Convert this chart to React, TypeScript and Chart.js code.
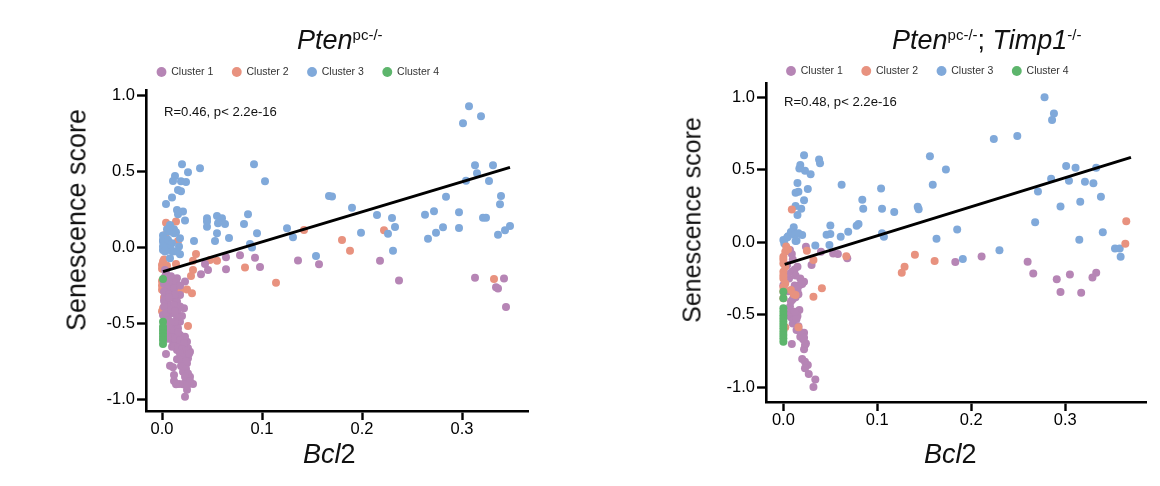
import React, { useEffect, useRef } from "react";
import { Chart, registerables } from "chart.js";
Chart.register(...registerables);

const clusterNames = ["Cluster 1", "Cluster 2", "Cluster 3", "Cluster 4"];
const clusterColors = ["#b685b5", "#e8927f", "#80a9da", "#5db56c"];
const xTickValues = [0, 0.1, 0.2, 0.3];
const yTickValues = [-1, -0.5, 0, 0.5, 1];

const leftPurple = [[.218,-.087],[.237,-.218],[.313,-.199],[.342,-.205],[.334,-.262],[.336,-.27],[.344,-.391],[.064,-.064],[.078,-.052],[.093,-.067],[.136,-.086],[.157,-.111],[.064,-.144],[.098,-.128],[.043,-.109],[.046,-.148],[.039,-.177],[.023,-.224],[.003,-.148],[.015,-.203],[.022,-.40],[.020,-.451],[.018,-.488],[.008,-.378],[.013,-.345],[.005,-.302],[.010,-.433],[.015,-.455],[.003,-.476],[.011,-.520],[.016,-.532],[.008,-.565],[.015,-.587],[.021,-.598],[.011,-.620],[.018,-.642],[.025,-.620],[.015,-.675],[.028,-.686],[.004,-.701],[.023,-.708],[.015,-.736],[.026,-.729],[.008,-.779],[.011,-.788],[.023,-.784],[.021,-.817],[.028,-.850],[.012,-.839],[.012,-.878],[.017,-.898],[.031,-.898],[.025,-.937],[.023,-.983],[.023,-.894],[.005,-.345],[.010,-.323],[.015,-.356],[.018,-.389],[.006,-.411],[.001,-.444],[.006,-.466],[.013,-.488],[.011,-.554],[.005,-.587],[.018,-.576],[.023,-.587],[.010,-.653],[.015,-.631],[.021,-.653],[.026,-.663],[.025,-.762],[.020,-.685],[.003,-.192],[.008,-.235],[.011,-.279],[.003,-.323],[.018,-.312],[.004,-.17],[.009,-.19],[.014,-.23],[.002,-.24],[.007,-.26],[.012,-.27],[.018,-.25],[.002,-.29],[.007,-.31],[.013,-.31],[.002,-.35],[.007,-.33],[.012,-.38],[.002,-.39],[.016,-.41],[.004,-.43],[.009,-.41],[.013,-.42],[.004,-.50],[.009,-.49],[.003,-.53],[.007,-.53],[.012,-.55],[.016,-.56],[.006,-.60],[.010,-.59],[.013,-.60],[.018,-.61],[.022,-.63],[.012,-.65],[.016,-.66],[.020,-.67],[.024,-.68],[.018,-.70],[.022,-.72],[.027,-.70],[.020,-.74],[.024,-.75],[.019,-.78],[.024,-.80],[.026,-.83],[.023,-.85],[.028,-.88],[.014,-.90],[.021,-.90],[.025,-.91]];
const leftSalmon = [[.222,.113],[.180,.049],[.188,-.021],[.332,-.207],[.004,.163],[.014,.17],[.003,.082],[.016,.043],[.034,-.043],[.031,-.087],[.048,-.082],[.055,-.088],[.083,-.132],[.114,-.232],[.142,.115],[.001,-.093],[0,-.115],[.014,-.109],[.031,-.148],[.029,-.187],[.008,-.209],[0,-.279],[.006,-.273],[.018,-.269],[.015,-.297],[.025,-.276],[.030,-.301],[.001,-.40],[.026,-.517],[.006,-.532],[.002,-.08],[.005,-.12],[0,-.14],[0,-.22],[0,-.25],[.002,-.33],[0,-.42],[.018,-.29],[.010,-.25]];
const leftBlue = [[.307,.929],[.319,.863],[.301,.817],[.313,.541],[.331,.541],[.315,.488],[.304,.439],[.327,.437],[.284,.334],[.339,.338],[.338,.284],[.170,.336],[.190,.262],[.215,.214],[.230,.194],[.272,.238],[.263,.216],[.297,.231],[.321,.196],[.324,.196],[.233,.135],[.226,.091],[.199,.097],[.281,.133],[.297,.128],[.274,.097],[.266,.058],[.336,.084],[.343,.113],[.348,.141],[.231,-.021],[.020,.547],[.038,.521],[.092,.547],[.103,.435],[.026,.495],[.013,.470],[.011,.437],[.019,.435],[.024,.431],[.016,.378],[.019,.370],[.010,.328],[.004,.286],[.167,.339],[.015,.247],[.021,.236],[.016,.218],[.045,.192],[.055,.207],[.060,.192],[.086,.218],[.008,.148],[.007,.104],[.045,.137],[.055,.093],[.056,.159],[.063,.155],[.082,.155],[.095,.093],[.067,.063],[.053,.043],[.032,.043],[.018,.060],[.012,.093],[.001,.078],[.001,.038],[.005,.016],[.001,-.016],[.010,-.021],[.017,.006],[.018,-.045],[.008,-.071],[.088,.023],[.090,0],[.125,.126],[.131,.067],[.154,-.056],[.023,.177],[.045,.170],[.001,.05],[.005,-.006],[.008,-.016],[.011,-.027],[.001,.006],[.003,-.027],[.006,.05],[.010,.027],[.015,-.027],[.009,.13],[.012,.12],[.014,.10],[.005,.12]];
const leftGreen = [[.001,-.207],[.001,-.488],[.001,-.521],[.001,-.543],[.001,-.565],[.001,-.587],[.001,-.609],[.001,-.635]];
const leftFit = [[.001,-.159],[.348,.527]];

const rightPurple = [[.183,-.138],[.211,-.099],[.260,-.136],[.266,-.216],[.291,-.257],[.305,-.223],[.333,-.212],[.329,-.244],[.295,-.345],[.317,-.350],[.007,-.055],[.009,-.083],[.024,-.032],[.040,-.067],[.053,-.078],[.058,-.083],[.068,-.112],[.030,-.158],[.015,-.170],[.004,-.158],[.009,-.205],[.006,-.251],[.018,-.251],[.022,-.274],[.017,-.297],[0,-.297],[.015,-.331],[.010,-.395],[.007,-.446],[.017,-.469],[.015,-.510],[.008,-.519],[.006,-.492],[.010,-.561],[.014,-.607],[.022,-.625],[.018,-.653],[.023,-.710],[.009,-.703],[.022,-.740],[.020,-.807],[.023,-.825],[.026,-.848],[.023,-.871],[.027,-.910],[.034,-.947],[.032,-1.0],[.010,-.12],[.012,-.19],[.003,-.22],[.013,-.23],[.020,-.29],[.012,-.30],[.005,-.34],[.016,-.36],[.013,-.38],[.008,-.41],[.004,-.50],[.012,-.48],[.014,-.53],[.016,-.58],[.018,-.62],[.021,-.67],[.024,-.70],[.022,-.66]];
const rightSalmon = [[.365,.143],[.364,-.012],[.140,-.087],[.161,-.131],[.129,-.170],[.126,-.212],[.009,.225],[.002,-.067],[0,-.101],[.025,-.060],[.032,-.124],[.067,-.097],[.041,-.319],[.032,-.377],[0,-.147],[0,-.205],[0,-.251],[.002,-.285],[.008,-.331],[.013,-.365],[0,-.388],[.016,-.588],[.002,-.588],[.003,-.03],[0,-.12],[.002,-.17],[0,-.23],[0,-.31],[0,-.34],[.005,-.05],[.011,-.36]];
const rightBlue = [[.278,.998],[.288,.887],[.286,.841],[.224,.710],[.249,.731],[.156,.591],[.173,.501],[.159,.395],[.143,.243],[.144,.227],[.301,.524],[.311,.512],[.333,.512],[.285,.437],[.304,.423],[.321,.416],[.330,.405],[.271,.349],[.338,.313],[.295,.246],[.316,.278],[.268,.136],[.185,.087],[.163,.023],[.340,.067],[.315,.016],[.353,-.044],[.358,-.044],[.359,-.101],[.230,-.057],[.191,-.117],[.022,.598],[.038,.570],[.039,.543],[.018,.531],[.017,.508],[.023,.492],[.029,.467],[.015,.407],[.062,.395],[.026,.366],[.013,.340],[.016,.347],[.104,.370],[.084,.292],[.022,.288],[.085,.230],[.105,.230],[.118,.207],[.013,.248],[.019,.230],[.015,.186],[.050,.115],[.011,.103],[.078,.113],[.080,.124],[.069,.071],[.105,.060],[.107,.036],[.061,.036],[.050,.055],[.046,.050],[.020,.048],[.011,.063],[.004,.032],[.014,.009],[0,.015],[.001,-.010],[.034,-.023],[.049,-.021],[.013,.007],[.005,.04],[.008,.07],[.012,.05],[.016,.06]];
const rightGreen = [[0,-.343],[0,-.388],[0,-.457],[0,-.481],[0,-.504],[0,-.527],[0,-.549],[0,-.572],[0,-.595],[0,-.618],[0,-.641],[0,-.664],[0,-.687]];
const rightFit = [[.0014,-.154],[.370,.584]];

const FONT = '"Liberation Sans", Arial, sans-serif';
const LEGEND_BOX = 39.5;

type Cfg = {
  groups: number[][][]; fit: number[][]; drawOrder: number[];
  xMin: number; xMax: number; yMin: number; yMax: number;
  areaLeft: number; areaRight: number; areaTop: number; axisY: number; legendTop: number; legendLeft: number;
};

const axisGrid = { display: true, drawOnChartArea: false, drawTicks: true, tickLength: 9, tickWidth: 2.4, tickColor: "#000" };

function Panel({ cfg, offset }: { cfg: Cfg; offset: number }) {
  const ref = useRef<HTMLCanvasElement>(null);
  useEffect(() => {
    const chart = new Chart(ref.current!, {
      type: "scatter",
      data: {
        datasets: [
          ...cfg.groups.map((g, i) => ({
            type: "scatter" as const,
            label: clusterNames[i],
            data: g.map(([x, y]) => ({ x, y })),
            backgroundColor: clusterColors[i],
            borderWidth: 0,
            pointRadius: 4,
            order: cfg.drawOrder[i],
          })),
          {
            type: "line" as const,
            label: "fit",
            data: cfg.fit.map(([x, y]) => ({ x, y })),
            borderColor: "#000",
            borderWidth: 3,
            pointRadius: 0,
            order: -1,
          },
        ],
      },
      options: {
        responsive: false,
        animation: false,
        layout: { padding: { top: cfg.areaTop - LEGEND_BOX, right: 580 - cfg.areaRight, left: 0, bottom: 0 } },
        plugins: {
          tooltip: { enabled: false },
          legend: {
            position: "top",
            align: "start",
            maxHeight: LEGEND_BOX,
            labels: {
              usePointStyle: true,
              pointStyle: "circle",
              boxWidth: 9,
              boxHeight: 7,
              padding: 19,
              color: "#333",
              font: { family: FONT, size: 10.5 },
              filter: (it: any) => it.text !== "fit",
              sort: (a: any, b: any) => a.datasetIndex - b.datasetIndex,
            },
          },
        },
        scales: {
          x: {
            type: "linear",
            min: cfg.xMin,
            max: cfg.xMax,
            afterBuildTicks: (s: any) => { s.ticks = xTickValues.map((value) => ({ value })); },
            afterFit: (s: any) => { s.height = 486 - cfg.axisY; },
            border: { display: true, color: "#000", width: 2.6 },
            grid: axisGrid,
            ticks: { color: "#000", padding: 0, maxRotation: 0, autoSkip: false, font: { family: FONT, size: 16.5 }, callback: (v: any) => Number(v).toFixed(1) },
          },
          y: {
            type: "linear",
            min: cfg.yMin,
            max: cfg.yMax,
            afterBuildTicks: (s: any) => { s.ticks = yTickValues.map((value) => ({ value })); },
            afterFit: (s: any) => { s.width = cfg.areaLeft; },
            border: { display: true, color: "#000", width: 2.6 },
            grid: axisGrid,
            ticks: { color: "#000", padding: 2, autoSkip: false, font: { family: FONT, size: 16.5 }, callback: (v: any) => Number(v).toFixed(1) },
          },
        },
      },
      plugins: [
        {
          id: "legendPlace",
          afterLayout: (c: any) => {
            const { width, height } = c.legend;
            c.legend.left = cfg.legendLeft;
            c.legend.right = cfg.legendLeft + width;
            c.legend.top = cfg.legendTop;
            c.legend.bottom = cfg.legendTop + height;
          },
        },
      ],
    } as any);
    return () => chart.destroy();
  }, []);
  return <canvas ref={ref} width={580} height={486} style={{ position: "absolute", left: offset, top: 0, width: 580, height: 486 }} />;
}

const leftCfg: Cfg = {
  groups: [leftPurple, leftSalmon, leftBlue, leftGreen], fit: leftFit, drawOrder: [2, 3, 1, 0],
  xMin: -0.016, xMax: 0.366, yMin: -1.076, yMax: 1.036,
  areaLeft: 146, areaRight: 528, areaTop: 90, axisY: 411, legendTop: 47.75, legendLeft: 138,
};
const rightCfg: Cfg = {
  groups: [rightPurple, rightSalmon, rightBlue, rightGreen], fit: rightFit, drawOrder: [2, 1, 3, 0],
  xMin: -0.0185, xMax: 0.386, yMin: -1.103, yMax: 1.097,
  areaLeft: 186, areaRight: 566, areaTop: 83, axisY: 402, legendTop: 46.75, legendLeft: 187.5,
};

const txt = (left: number, top: number, size: number, extra: React.CSSProperties = {}): React.CSSProperties => ({
  position: "absolute", left, top, fontFamily: FONT, fontSize: size, lineHeight: `${size}px`, color: "#111", whiteSpace: "nowrap", ...extra,
});
const sup: React.CSSProperties = { fontSize: 15, position: "relative", top: -9, fontStyle: "normal" };

export default function App() {
  return (
    <div style={{ position: "absolute", left: 0, top: 0, width: 1160, height: 486, background: "#fff", overflow: "hidden" }}>
      <Panel cfg={leftCfg} offset={0} />
      <Panel cfg={rightCfg} offset={580} />
      <div style={txt(297, 27, 27)}><i>Pten</i><span style={sup}>pc-/-</span></div>
      <div style={txt(892, 27, 27)}><i>Pten</i><span style={sup}>pc-/-</span>; <i>Timp1</i><span style={sup}>-/-</span></div>
      <div style={txt(164, 105, 13.1)}>R=0.46, p&lt; 2.2e-16</div>
      <div style={txt(784, 95, 13.1)}>R=0.48, p&lt; 2.2e-16</div>
      <div style={txt(303, 441, 27)}><i>Bcl</i>2</div>
      <div style={txt(924, 441, 27)}><i>Bcl</i>2</div>
      <div style={txt(77, 220, 27, { transform: "translate(-50%,-50%) rotate(-90deg)" })}>Senescence score</div>
      <div style={txt(692, 220, 25, { transform: "translate(-50%,-50%) rotate(-90deg)" })}>Senescence score</div>
    </div>
  );
}
